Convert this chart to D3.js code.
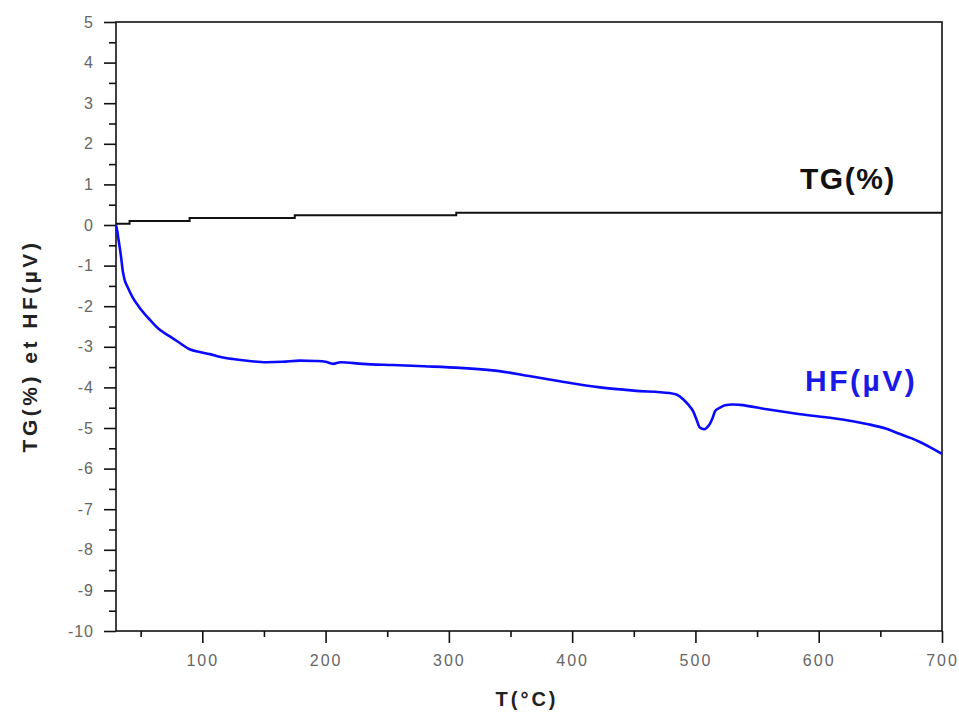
<!DOCTYPE html>
<html>
<head>
<meta charset="utf-8">
<script src="https://cdn.jsdelivr.net/npm/d3@7"></script>
<style>
  html, body { margin: 0; padding: 0; background: #fff; }
  svg { display: block; }
</style>
</head>
<body>
<svg id="chart" width="959" height="716"></svg>
<script>
// ---- data ----
const tgT = [30, 41, 41, 89.7, 89.7, 175, 175, 306, 306, 700];
const tgV = [0.03, 0.03, 0.1, 0.1, 0.17, 0.17, 0.24, 0.24, 0.3, 0.3];

const hfT = [30, 31, 32, 34, 35.5, 37, 39.6, 43.6, 49, 57, 65, 73, 81.5, 89.7, 98, 106, 115, 124.6, 138, 152, 165, 179, 192, 200, 206, 212, 230, 254.5, 280, 309, 341, 365, 390, 422.5, 450, 479, 485, 490, 494, 498, 501, 503.6, 507, 509, 511.7, 514, 516, 520, 524, 530, 536, 558, 585, 612, 639, 655, 666, 675, 682.5, 692, 700];
const hfV = [0, -0.15, -0.35, -0.76, -1.13, -1.35, -1.54, -1.79, -2.03, -2.32, -2.57, -2.73, -2.9, -3.06, -3.13, -3.18, -3.25, -3.3, -3.35, -3.38, -3.37, -3.34, -3.35, -3.37, -3.42, -3.38, -3.42, -3.45, -3.48, -3.52, -3.6, -3.72, -3.85, -4.0, -4.08, -4.14, -4.18, -4.29, -4.42, -4.58, -4.8, -4.99, -5.03, -5.0, -4.9, -4.75, -4.58, -4.5, -4.44, -4.42, -4.43, -4.54, -4.66, -4.76, -4.9, -5.02, -5.15, -5.25, -5.35, -5.5, -5.64];

const xTicks = [100, 200, 300, 400, 500, 600, 700];
const xMinorTicks = [50, 150, 250, 350, 450, 550, 650];
const yTicks = [5, 4, 3, 2, 1, 0, -1, -2, -3, -4, -5, -6, -7, -8, -9, -10];
const yMinorTicks = [4.5, 3.5, 2.5, 1.5, 0.5, -0.5, -1.5, -2.5, -3.5, -4.5, -5.5, -6.5, -7.5, -8.5, -9.5];

const xTitle = "T(°C)";
const yTitle = "TG(%) et  HF(µV)";
const tgLabel = "TG(%)";
const hfLabel = "HF(µV)";

// ---- layout ----
const M = { left: 116, right: 942, top: 22, bottom: 631 };
const svg = d3.select("#chart");

const x = d3.scaleLinear().domain([30, 700]).range([M.left, M.right]);
const y = d3.scaleLinear().domain([-10, 5]).range([M.bottom, M.top]);

const font = "'Liberation Sans', Arial, sans-serif";
const fmt = d => String(d); // plain hyphen minus

// frame
svg.append("rect")
  .attr("x", M.left).attr("y", M.top)
  .attr("width", M.right - M.left).attr("height", M.bottom - M.top)
  .attr("fill", "none").attr("stroke", "#111").attr("stroke-width", 1.6);

// x axis
const xAxis = svg.append("g").attr("transform", `translate(0,${M.bottom})`);
xAxis.call(d3.axisBottom(x).tickValues(xTicks).tickSize(12).tickPadding(12).tickFormat(fmt));
xAxis.select(".domain").remove();
xAxis.selectAll(".tick line").attr("stroke", "#111").attr("stroke-width", 1.6);
xAxis.selectAll(".tick text")
  .attr("font-family", font).attr("font-size", 16).attr("fill", "#666")
  .attr("letter-spacing", "2px").attr("dx", "0px");
const xMinor = svg.append("g").attr("transform", `translate(0,${M.bottom})`);
xMinor.call(d3.axisBottom(x).tickValues(xMinorTicks).tickSize(6).tickFormat(""));
xMinor.select(".domain").remove();
xMinor.selectAll(".tick line").attr("stroke", "#111").attr("stroke-width", 1.6);

// y axis
const yAxis = svg.append("g").attr("transform", `translate(${M.left},0)`);
yAxis.call(d3.axisLeft(y).tickValues(yTicks).tickSize(12).tickPadding(10).tickFormat(fmt));
yAxis.select(".domain").remove();
yAxis.selectAll(".tick line").attr("stroke", "#111").attr("stroke-width", 1.6);
yAxis.selectAll(".tick text")
  .attr("font-family", font).attr("font-size", 16).attr("fill", "#666")
  .attr("letter-spacing", "1px");
const yMinor = svg.append("g").attr("transform", `translate(${M.left},0)`);
yMinor.call(d3.axisLeft(y).tickValues(yMinorTicks).tickSize(7).tickFormat(""));
yMinor.select(".domain").remove();
yMinor.selectAll(".tick line").attr("stroke", "#111").attr("stroke-width", 1.6);

// lines
const tgData = tgT.map((t, i) => [t, tgV[i]]);
const hfData = hfT.map((t, i) => [t, hfV[i]]);
const line = d3.line().x(d => x(d[0])).y(d => y(d[1]));

svg.append("path").datum(tgData)
  .attr("d", line).attr("fill", "none").attr("stroke", "#111").attr("stroke-width", 2);
svg.append("path").datum(hfData)
  .attr("d", line.curve(d3.curveMonotoneX)).attr("fill", "none").attr("stroke", "#0a0aff").attr("stroke-width", 2.6)
  .attr("stroke-linejoin", "round");

// labels
svg.append("text").text(tgLabel)
  .attr("x", 800).attr("y", 189)
  .attr("font-family", font).attr("font-weight", "bold").attr("font-size", 30)
  .attr("letter-spacing", "1.5px").attr("fill", "#111");
svg.append("text").text(hfLabel)
  .attr("x", 805).attr("y", 391)
  .attr("font-family", font).attr("font-weight", "bold").attr("font-size", 30)
  .attr("letter-spacing", "2.5px").attr("fill", "#1a1ae8");

// axis titles
svg.append("text").text(xTitle)
  .attr("x", 527).attr("y", 706).attr("text-anchor", "middle")
  .attr("font-family", font).attr("font-weight", "bold").attr("font-size", 20)
  .attr("letter-spacing", "3px").attr("fill", "#222");
svg.append("text").text(yTitle)
  .attr("transform", "translate(37,346) rotate(-90)").attr("text-anchor", "middle")
  .attr("font-family", font).attr("font-weight", "bold").attr("font-size", 21)
  .attr("letter-spacing", "3.5px").attr("fill", "#222");
</script>
</body>
</html>
